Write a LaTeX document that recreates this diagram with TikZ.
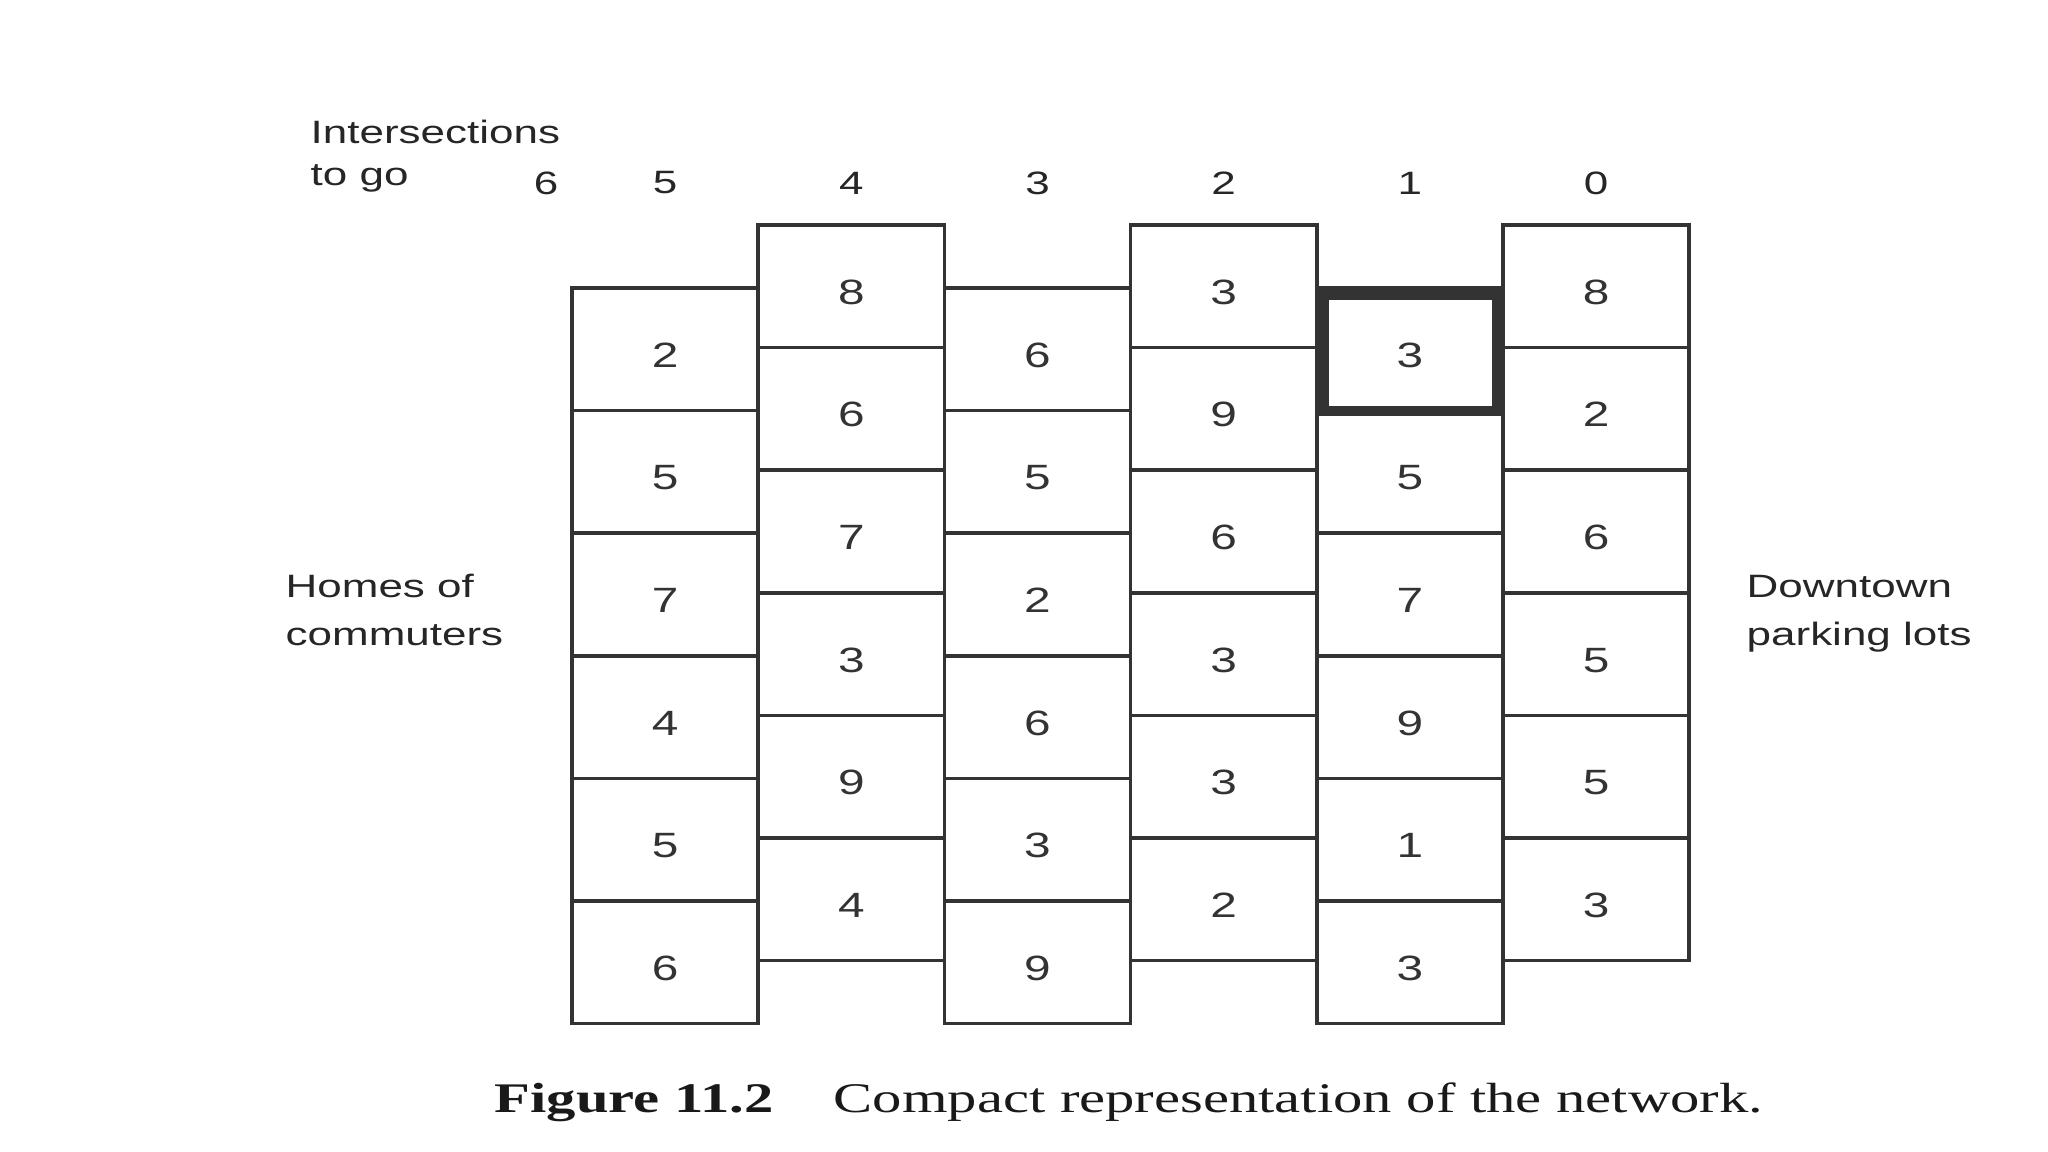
\documentclass[tikz,border=0pt]{standalone}
\usepackage{fontspec}
\setmainfont{Liberation Serif}[FakeStretch=1.39]
\setsansfont{Liberation Sans}[FakeStretch=1.36]

\begin{document}
\begin{tikzpicture}[
    cell/.style={draw=black!80, line width=1pt, minimum width=1.862cm, minimum height=1.226cm,
        inner sep=0pt, outer sep=0pt, text height=3.6mm, text depth=0pt,
        font=\sffamily\fontsize{10}{12}\selectfont, text=black!80},
    heading/.style={font=\sffamily\fontsize{9.2}{12}\selectfont, text=black!85, inner sep=0pt, align=left},
    sidelabel/.style={heading, font=\sffamily\fontsize{9.2}{13.6}\selectfont, anchor=west},
    boldcell/.style={draw=black!80, line width=2.8pt}
]
    \useasboundingbox (0,0) rectangle (20.48,11.52);

    % Columns of cells, 5 down to 0 intersections to go
    \foreach \k/\vals in {0/{2,5,7,4,5,6},1/{8,6,7,3,9,4},2/{6,5,2,6,3,9},
                          3/{3,9,6,3,3,2},4/{3,5,7,9,1,3},5/{8,2,6,5,5,3}} {
        \pgfmathtruncatemacro{\col}{5-\k}
        \pgfmathsetmacro{\xc}{6.651+1.862*\k}
        \pgfmathsetmacro{\ytop}{8.64+0.63*mod(\k,2)}
        \foreach \val [count=\row] in \vals {
            \node[cell] (c\col-\row) at (\xc, \ytop-1.226*\row+0.613) {\val};
        }
        % column number
        \node[heading] (h\col) at (\xc, 9.69) {\col};
    }
    \node[heading] (h6) at (5.46, 9.69) {6};

    % Highlighted cell
    \draw[boldcell] ([xshift=0.7mm,yshift=-0.7mm]c1-1.north west) rectangle ([xshift=-0.6mm]c1-1.south east);

    % Labels
    \node[heading, anchor=west] (inter) at (3.10, 9.96) {Intersections\\to go};
    \node[sidelabel] (homes) at (2.85, 5.42) {Homes of\\commuters};
    \node[sidelabel] (lots) at (17.46, 5.38) {Downtown\\parking lots};

    % Caption
    \node[anchor=base west, inner sep=0pt, font=\fontsize{12}{14}\selectfont, text=black!90] (caption)
        at (4.94, 0.39) {\textbf{Figure 11.2}\hspace{0.6cm}Compact representation of the network.};
\end{tikzpicture}
\end{document}
